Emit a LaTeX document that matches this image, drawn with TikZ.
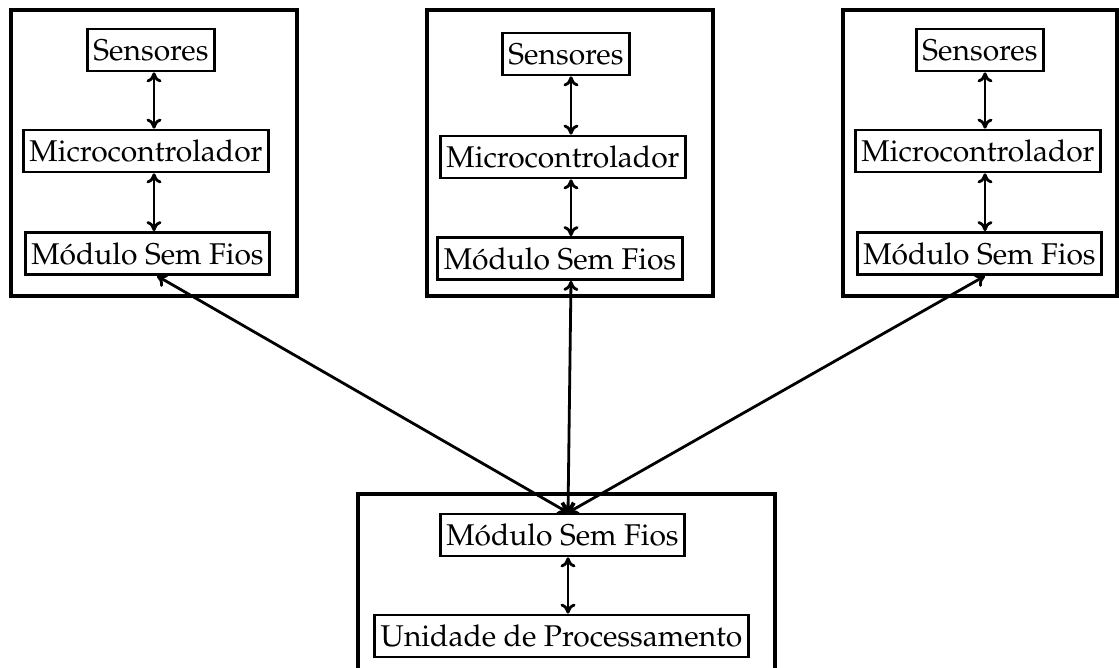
\documentclass[tikz,border=0pt]{standalone}
\usepackage[T1]{fontenc}
\usepackage{mathpazo}
\usetikzlibrary{arrows.meta}
\tikzset{
  block/.style={draw, line width=1.4pt, inner xsep=3pt, minimum height=21pt,
    font=\fontsize{15}{18}\selectfont},
  frame/.style={draw, line width=1.7pt},
  link/.style={line width=1.4pt, {To[length=5pt,width=7.5pt]}-{To[length=5pt,width=7.5pt]}},
}
\begin{document}
\begin{tikzpicture}[x=0.5pt, y=-0.5pt]
  \useasboundingbox (0,0) rectangle (1119,668);

  % outer frames
  \draw[frame] (11,10) rectangle (297,296);
  \draw[frame] (427,10) rectangle (713,296);
  \draw[frame] (843,10) rectangle (1117,296);
  \draw[frame] (358,690) -- (358,494) -- (775,494) -- (775,690);

  % left node
  \node[block] (s1) at (151,50)    {Sensores};
  \node[block] (m1) at (146,151)   {Microcontrolador};
  \node[block] (w1) at (147.5,253.5) {M\'odulo Sem Fios};
  % middle node
  \node[block] (s2) at (566,54)    {Sensores};
  \node[block] (m2) at (563,157)   {Microcontrolador};
  \node[block] (w2) at (560,258.5) {M\'odulo Sem Fios};
  % right node
  \node[block] (s3) at (980,50)    {Sensores};
  \node[block] (m3) at (978,151)   {Microcontrolador};
  \node[block] (w3) at (979.5,253.5) {M\'odulo Sem Fios};
  % base station
  \node[block] (wb) at (562.5,535) {M\'odulo Sem Fios};
  \node[block] (pu) at (561.5,636) {Unidade de Processamento};

  % connector columns
  \coordinate (c1) at (154,0);
  \coordinate (c2) at (571,0);
  \coordinate (c3) at (985,0);
  \coordinate (t1) at (157,0);
  \coordinate (cb) at (568,0);

  \draw[link] (s1.south -| c1) -- (m1.north -| c1);
  \draw[link] (m1.south -| c1) -- (w1.north -| c1);
  \draw[link] (s2.south -| c2) -- (m2.north -| c2);
  \draw[link] (m2.south -| c2) -- (w2.north -| c2);
  \draw[link] (s3.south -| c3) -- (m3.north -| c3);
  \draw[link] (m3.south -| c3) -- (w3.north -| c3);
  \draw[link] (wb.south -| cb) -- (pu.north -| cb);

  \draw[link] (w1.south -| t1) -- (wb.north -| cb);
  \draw[link] (w2.south -| c2) -- (wb.north -| cb);
  \draw[link] (w3.south -| c3) -- (wb.north -| cb);
\end{tikzpicture}
\end{document}
